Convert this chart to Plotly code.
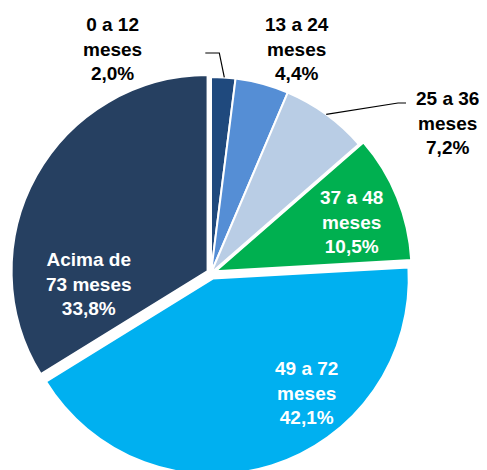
import math
import plotly.graph_objects as go

# ---- data ----
categories = ["0 a 12 meses", "13 a 24 meses", "25 a 36 meses",
              "37 a 48 meses", "49 a 72 meses", "Acima de 73 meses"]
values = [2.0, 4.4, 7.2, 10.5, 42.1, 33.8]
label_lines = [["0 a 12", "meses"], ["13 a 24", "meses"], ["25 a 36", "meses"],
               ["37 a 48", "meses"], ["49 a 72", "meses"], ["Acima de", "73 meses"]]

# ---- styles ----
colors = ["#1F497D", "#558ED5", "#B9CDE5", "#00B050", "#00B0F0", "#264061"]
pulls = [0, 0, 0, 0.025, 0.03, 0.02]
text_colors = ["black", "black", "black", "white", "white", "white"]

W, H = 487, 470
OFF = 8  # page body margin
# label centres in screen pixels (x, y from top)
label_pos = [(112, 49), (297, 49), (447, 123), (351, 222), (306, 393), (89, 284)]

def to_paper(sx, sy):
    return (sx - OFF) / W, 1 - (sy - OFF) / H

# pie centre and radius in screen pixels
scx, scy, sr = 211, 273, 196
cx, cy = scx - OFF, scy - OFF
half = sr * (1 + max(pulls))
dom_x = [(cx - half) / W, (cx + half) / W]
dom_y = [1 - (cy + half) / H, 1 - (cy - half) / H]
dom_y = [max(0, dom_y[0]), min(1, dom_y[1])]

fig = go.Figure(go.Pie(
    labels=categories, values=values, sort=False, direction="clockwise",
    rotation=0, pull=pulls, textinfo="none", hoverinfo="label+percent",
    marker=dict(colors=colors, line=dict(color="white", width=2)),
    domain=dict(x=dom_x, y=dom_y), showlegend=False,
))

def fmt(v):
    return f"{v:.1f}".replace(".", ",") + "%"

annotations = []
for lines, v, (lx, ly), tc in zip(label_lines, values, label_pos, text_colors):
    px, py = to_paper(lx, ly)
    annotations.append(dict(
        x=px, y=py, xref="paper", yref="paper",
        text="<b>" + "<br>".join(lines + [fmt(v)]) + "</b>", showarrow=False,
        font=dict(family="Liberation Sans, Arial, sans-serif", size=19, color=tc),
        align="center", xanchor="center", yanchor="middle",
    ))

# leader lines start on the slice edge (computed from data)
total = sum(values)
cum = 0
mids = []
for v in values:
    mids.append((cum + v / 2) / total * 2 * math.pi)
    cum += v

def edge_point(i, extra=0):
    a = mids[i]
    return scx + (sr + extra) * math.sin(a), scy - (sr + extra) * math.cos(a)

def path_of(pts):
    segs = []
    for k, (sx, sy) in enumerate(pts):
        px, py = to_paper(sx, sy)
        segs.append(("M" if k == 0 else "L") + f" {px} {py}")
    return " ".join(segs)

shapes = []
x0, y0 = edge_point(0, extra=0)
shapes.append(dict(type="path", xref="paper", yref="paper",
                   path=path_of([(x0 + 1, y0), (x0 - 4, 53), (x0 - 18, 53)]),
                   line=dict(color="black", width=1.2)))
x2, y2 = edge_point(2, extra=0)
shapes.append(dict(type="path", xref="paper", yref="paper",
                   path=path_of([(x2, y2), (398, 103), (406, 103)]),
                   line=dict(color="black", width=1.2)))

fig.update_layout(
    width=W, height=H, margin=dict(l=0, r=0, t=0, b=0),
    paper_bgcolor="white", plot_bgcolor="white",
    annotations=annotations, shapes=shapes,
)
fig.write_html("out.html")
